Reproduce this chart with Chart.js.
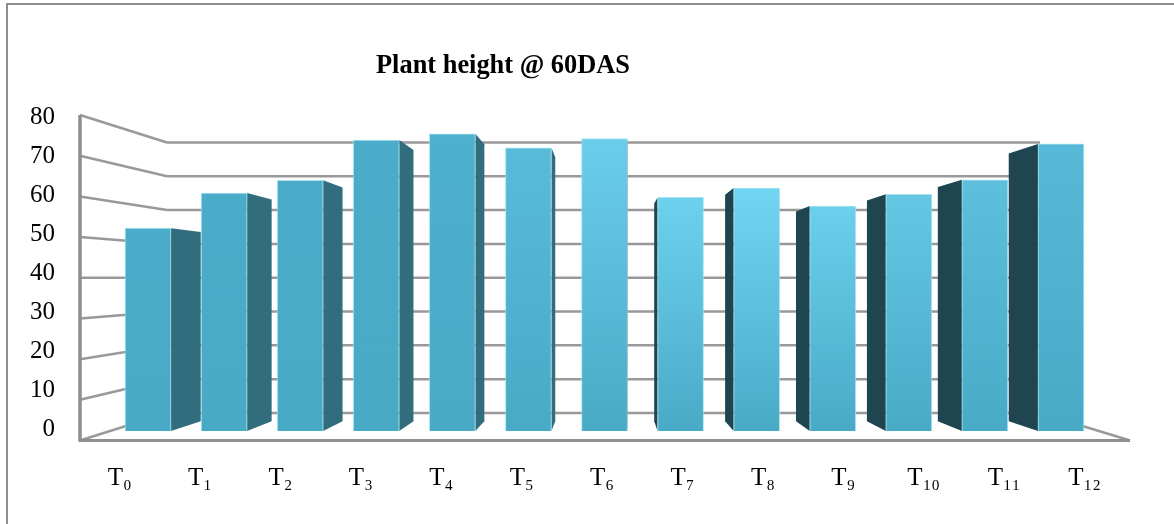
<!DOCTYPE html>
<html>
<head>
<meta charset="utf-8">
<style>
  html, body { margin: 0; padding: 0; background: #fff; }
  canvas { display: block; }
</style>
<script src="https://cdn.jsdelivr.net/npm/chart.js@4"></script>
</head>
<body>
<canvas id="chart" width="1174" height="524"></canvas>
<script>
const chartTitle = 'Plant height @ 60DAS';
const treatments = ['T₀', 'T₁', 'T₂', 'T₃', 'T₄', 'T₅', 'T₆', 'T₇', 'T₈', 'T₉', 'T₁₀', 'T₁₁', 'T₁₂'];
const plantHeight = [52, 61, 64.3, 74.6, 76.2, 72.6, 75, 59.9, 62.3, 57.7, 60.7, 64.4, 73.6];
const heightTicks = [0, 10, 20, 30, 40, 50, 60, 70, 80];

const fontFamily = '"Liberation Serif", "Times New Roman", serif';
const gridColor = '#999999';
const frameColor = '#8e8e8e';

// the light patch in the front faces sits around T8
const faceTopColors = ['#4aacc8', '#4aacc8', '#4aacc8', '#4aacc8', '#4db0cc', '#58bbd8', '#6acde9',
    '#6dd1ee', '#70d6f2', '#6ad0eb', '#63c7e3', '#5dbfdc', '#57b9d7'];
const faceBottomColor = '#49aac6';
const sideRightColor = '#326d7e';
const sideLeftColor = '#1f4550';

// the bars stand in a plane between the front edge of the floor and the back wall
const vanishX = 608;
const vanishY = 286;
const sideDepth = 0.068;
const frontLeft = 80, frontRight = 1130;
const backLeft = 167, backRight = 1040;
const frontY = (px) => 440.5 + (px - 431) * 1.043;
const backY = (px) => 413 + (px - 431) * 0.867;

function line(ctx, x1, y1, x2, y2, width, color) {
    ctx.beginPath();
    ctx.moveTo(x1, y1);
    ctx.lineTo(x2, y2);
    ctx.lineWidth = width;
    ctx.strokeStyle = color;
    ctx.stroke();
}

const wallsPlugin = {
    id: 'walls',
    beforeDatasetsDraw(chart) {
        const { ctx, scales } = chart;
        ctx.save();

        // page frame the figure was cropped from
        line(ctx, 7, 4, 1174, 4, 2, frameColor);
        line(ctx, 7, 3, 7, 524, 2, frameColor);

        heightTicks.forEach((tick) => {
            const px = scales.y.getPixelForValue(tick);
            line(ctx, frontLeft, frontY(px), backLeft, backY(px), 2.5, gridColor);
            line(ctx, backLeft, backY(px), backRight, backY(px), 2.5, gridColor);
        });

        const floor = scales.y.getPixelForValue(0);
        line(ctx, backRight, backY(floor), frontRight, frontY(floor), 2.5, gridColor);
        line(ctx, frontLeft - 1, frontY(floor), frontRight, frontY(floor), 3, frameColor);
        line(ctx, frontLeft, frontY(scales.y.getPixelForValue(80)), frontLeft, frontY(floor) + 1, 3.5, frameColor);

        // side faces go under the front faces
        chart.getDatasetMeta(0).data.forEach((bar) => {
            const half = bar.width / 2;
            const edge = bar.x < vanishX ? bar.x + half : bar.x - half;
            const farX = edge + (vanishX - edge) * sideDepth;
            ctx.beginPath();
            ctx.moveTo(edge, bar.y);
            ctx.lineTo(farX, bar.y + (vanishY - bar.y) * sideDepth);
            ctx.lineTo(farX, bar.base + (vanishY - bar.base) * sideDepth);
            ctx.lineTo(edge, bar.base);
            ctx.closePath();
            ctx.fillStyle = bar.x < vanishX ? sideRightColor : sideLeftColor;
            ctx.fill();
        });

        ctx.restore();
    }
};

// the title is off centre in the original, so shift its block after layout
const titleShiftPlugin = {
    id: 'titleShift',
    afterLayout(chart) {
        chart.titleBlock.left = 0;
        chart.titleBlock.right = 1006;
    }
};

function faceGradient(context) {
    const { chart, dataIndex } = context;
    const top = chart.scales.y.getPixelForValue(plantHeight[dataIndex]);
    const bottom = chart.scales.y.getPixelForValue(0);
    // options get resolved once before the first layout too
    if (!Number.isFinite(top) || !Number.isFinite(bottom)) return faceBottomColor;
    const gradient = chart.ctx.createLinearGradient(0, top, 0, bottom);
    gradient.addColorStop(0, faceTopColors[dataIndex]);
    gradient.addColorStop(1, faceBottomColor);
    return gradient;
}

new Chart(document.getElementById('chart'), {
    type: 'bar',
    plugins: [titleShiftPlugin, wallsPlugin],
    data: {
        labels: treatments,
        datasets: [{
            data: plantHeight,
            backgroundColor: faceGradient,
            borderColor: 'rgba(150, 222, 238, 0.8)',
            borderWidth: 1,
            barThickness: 46,
            xAxisID: 'x',
            yAxisID: 'y'
        }]
    },
    options: {
        responsive: false,
        animation: false,
        layout: { padding: { right: 75 } },
        plugins: {
            legend: { display: false },
            tooltip: { enabled: false },
            title: {
                display: true,
                text: chartTitle,
                color: '#000',
                font: { family: fontFamily, size: 26.4, weight: 'bold' },
                padding: { top: 50, bottom: 37.3 }
            }
        },
        scales: {
            x: {
                display: false,
                offset: true
            },
            // tick labels are spaced wider than the bars in the original
            xLabels: {
                type: 'linear',
                position: 'bottom',
                offset: false,
                min: -0.12,
                max: 12.18,
                grid: { display: false },
                border: { display: false },
                afterBuildTicks(scale) {
                    scale.ticks = treatments.map((_, i) => ({ value: i }));
                },
                afterFit(scale) {
                    scale.height = 93;
                },
                ticks: {
                    autoSkip: false,
                    maxRotation: 0,
                    padding: 24,
                    color: '#000',
                    font: { family: fontFamily, size: 25 },
                    callback: (value) => treatments[value]
                }
            },
            y: {
                min: 0,
                max: 80,
                grid: { display: false },
                border: { display: false },
                afterBuildTicks(scale) {
                    scale.ticks = heightTicks.map((value) => ({ value }));
                },
                afterFit(scale) {
                    scale.width = 110;
                },
                ticks: {
                    padding: 47,
                    labelOffset: -1.5,
                    color: '#000',
                    font: { family: fontFamily, size: 25 }
                }
            }
        }
    }
});
</script>
</body>
</html>
